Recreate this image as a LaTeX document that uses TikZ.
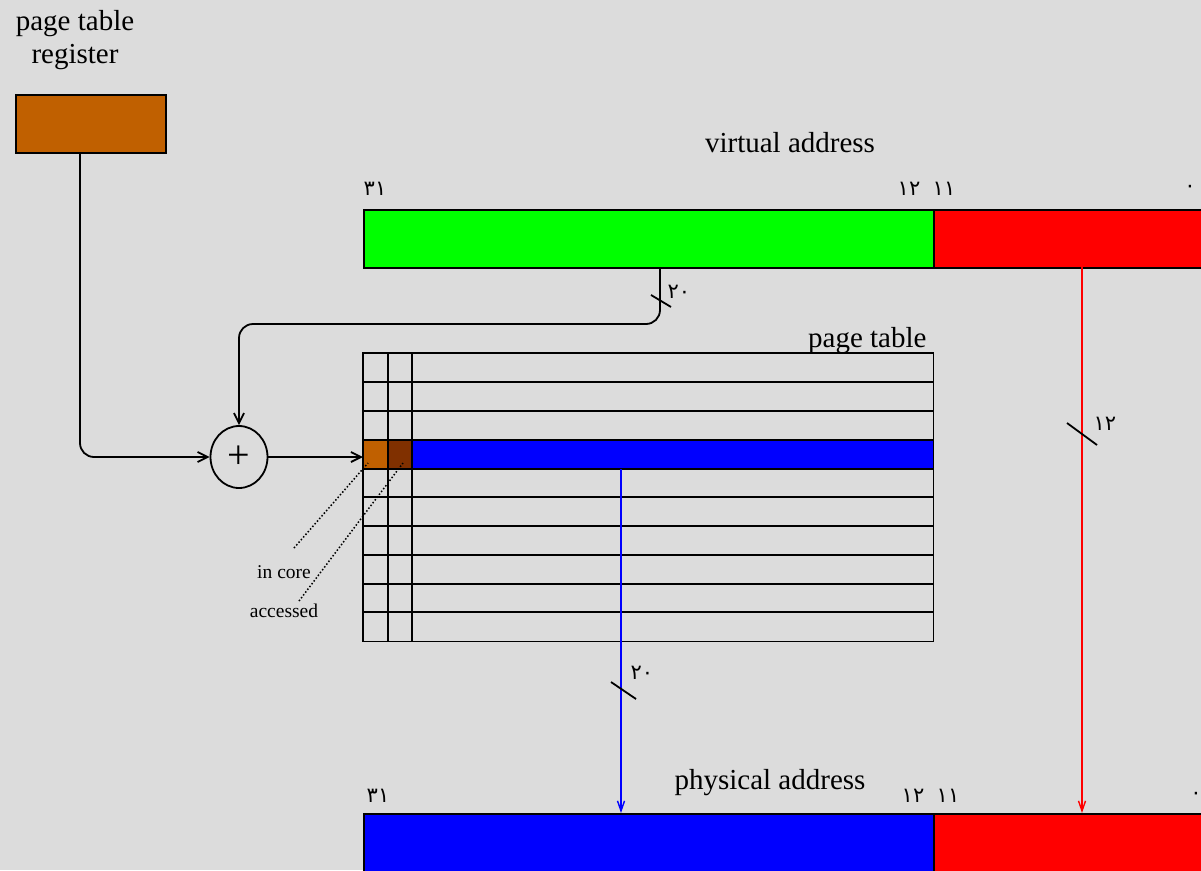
\documentclass[tikz,border=0pt]{standalone}
\usepackage{fontspec}
\setmainfont{Liberation Serif}
\newfontfamily\arabicfont[Script=Arabic]{DejaVu Sans}
\usetikzlibrary{arrows.meta,shapes.geometric}
\definecolor{bgc}{RGB}{220,220,220}
\definecolor{ptrc}{RGB}{192,96,0}
\definecolor{accc}{RGB}{128,48,0}
\definecolor{vgreen}{RGB}{0,255,0}
\definecolor{vred}{RGB}{255,0,0}
\definecolor{vblue}{RGB}{0,0,255}
\begin{document}
\begin{tikzpicture}[x=1pt,y=-1pt,
  bar/.style={draw=black, line width=2pt, minimum height=58pt, inner sep=0pt, anchor=north west},
  cell/.style={minimum height=29pt, inner sep=0pt, anchor=north west},
  arr/.style={-{Straight Barb[length=10pt,width=10pt]}, line width=1.8pt},
  carr/.style={-{Straight Barb[length=10pt,width=7pt]}, line width=1.4pt},
  big/.style={font=\fontsize{29}{33}\selectfont},
  small/.style={font=\fontsize{19.5}{22}\selectfont},
  num/.style={font=\arabicfont\fontsize{21}{22}\selectfont},
  slash/.style={line width=1.8pt},
  grid/.style={line width=1.8pt},
  dots/.style={dotted, line width=1.5pt}]
\clip (0,0) rectangle (1201,870);
\fill[bgc] (0,0) rectangle (1201,870);

% page table register
\node[big, align=center] (ptrlbl) at (75,40) {page table\\register};
\node[bar, fill=ptrc, minimum width=150pt] (ptr) at (15,94) {};

% virtual address
\node[big] (vlbl) at (790,143) {virtual address};
\node[bar, fill=vgreen, minimum width=570pt] (vg) at (363,209) {};
\node[bar, fill=vred, minimum width=300pt] (vr) at (933,209) {};
\node[num] (v31) at (375,189) {٣١};
\node[num] (v12) at (909,189) {١٢};
\node[num] (v11) at (944,189) {١١};
\node[num] (v0) at (1190,189) {٠};

% physical address
\node[big] (plbl) at (770,783) {physical address};
\node[bar, fill=vblue, minimum width=570pt] (pb) at (363,813) {};
\node[bar, fill=vred, minimum width=300pt] (pr) at (933,813) {};
\node[num] (p31) at (378,796) {٣١};
\node[num] (p12) at (913,796) {١٢};
\node[num] (p11) at (948,796) {١١};
\node[num] (p0) at (1196,796) {٠};

% page table
\node[big, anchor=east] (ptlbl) at (930,341) {page table};
\node[minimum width=570pt, minimum height=288pt, inner sep=0pt, anchor=north west] (pt) at (363,353) {};
\node[cell, fill=ptrc, minimum width=25pt] (incore) at (363,440) {};
\node[cell, fill=accc, minimum width=24pt] (acc) at (388,440) {};
\node[cell, fill=vblue, minimum width=521pt] (pte) at (412,440) {};
\foreach \yy in {382,411,440,469,497,526,555,584,612}
  \draw[grid] (363,\yy) -- (933,\yy);
\foreach \xx in {388,412}
  \draw[grid] (\xx,353) -- (\xx,641);
\draw[grid] (pt.north west) rectangle (pt.south east);

% adder
\node[draw, line width=1.8pt, ellipse, minimum width=57pt, minimum height=62pt, inner sep=0pt, font=\fontsize{40}{40}\selectfont] (plus) at (239,457) {+};

% connectors
\coordinate (vtap) at (660,267);
\coordinate (vturn) at (239,324);
\draw[arr, rounded corners=14pt] (vtap) |- (vturn) -- (plus.north);
\coordinate (ptap) at (80,152);
\draw[arr, rounded corners=14pt] (ptap) |- (plus.west);
\draw[arr] (plus.east) -- (plus.east -| pt.west);

\coordinate (btap) at (621,469);
\draw[carr, draw=vblue] (btap) -- (btap |- pb.north);
\coordinate (rtap) at (1082,267);
\draw[carr, draw=vred] (rtap) -- (rtap |- pr.north);

% bus width slashes
\draw[slash] (651,295) -- (671,307);
\node[num, anchor=west] (w1) at (664,292) {٢٠};
\draw[slash] (611,682) -- (636,699);
\node[num, anchor=west] (w2) at (627,673) {٢٠};
\draw[slash] (1067,423) -- (1097,445);
\node[num, anchor=west] (w3) at (1090,424) {١٢};

% dotted callouts
\node[small] (icl) at (284,572) {in core};
\node[small] (acl) at (284,611) {accessed};
\coordinate (icd) at (368,463);
\coordinate (acd) at (403,463);
\draw[dots] (294,548) -- (icd);
\draw[dots] (299,601) -- (acd);
\end{tikzpicture}
\end{document}
